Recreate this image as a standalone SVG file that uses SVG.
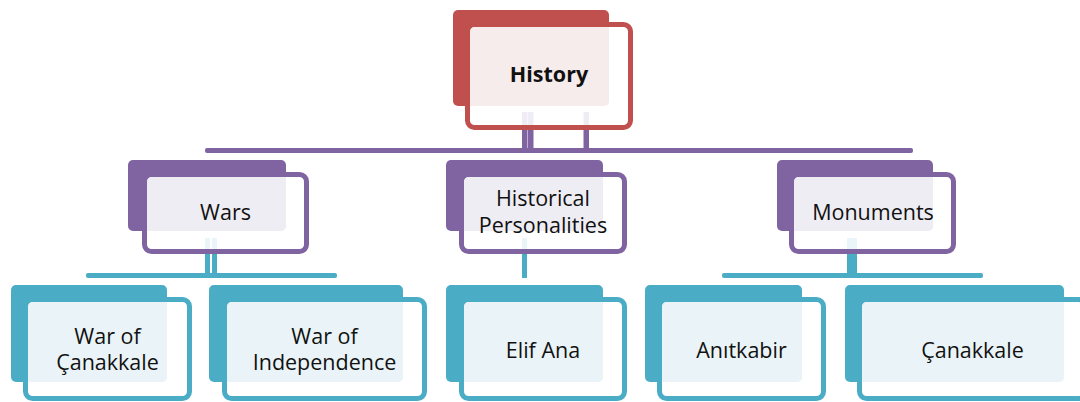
<svg xmlns="http://www.w3.org/2000/svg" width="1080" height="402" viewBox="0 0 1080 402">
<style>
text{font-family:"Open Sans","Noto Sans","Liberation Sans",sans-serif;font-size:21.5px;fill:#111;text-anchor:middle}
.b{font-weight:bold}
.front{fill:#fff;fill-opacity:0.88;stroke-width:5}
.red .back{fill:#C0504D}.red .front{stroke:#C0504D}.red .tint{fill:#F6ECEC}
.pur .back{fill:#8064A2}.pur .front{stroke:#8064A2}.pur .tint{fill:#EFEDF4}
.cy .back{fill:#4BACC6}.cy .front{stroke:#4BACC6}.cy .tint{fill:#EAF4F8}
.cp{fill:#8064A2}.cc{fill:#4BACC6}
</style>
<rect width="1080" height="402" fill="#fff"/>
<g id="connectors">
<rect class="cp" x="205" y="148" width="708" height="5" rx="2"/>
<rect class="cp" x="522" y="112" width="5.5" height="41"/>
<rect class="cp" x="528" y="112" width="5.5" height="41"/>
<rect class="cp" x="583.5" y="112" width="5.5" height="41"/>
<rect class="cc" x="86" y="273" width="251" height="5" rx="2"/>
<rect class="cc" x="205" y="238" width="5" height="40"/>
<rect class="cc" x="212" y="238" width="5" height="40"/>
<rect class="cc" x="522" y="238" width="5" height="40"/>
<rect class="cc" x="722" y="273" width="261" height="5" rx="2"/>
<rect class="cc" x="847" y="238" width="10" height="38"/>
</g>
<g id="history" class="red">
<rect class="back" x="453" y="10" width="156" height="96" rx="5"/>
<rect class="front" x="467.5" y="24.5" width="163" height="103" rx="7"/>
<rect class="tint" x="470" y="27" width="139" height="79" rx="5"/>
<text class="b" x="549" y="82">History</text>
</g>
<g id="wars" class="pur">
<rect class="back" x="128" y="160" width="158" height="71" rx="5"/>
<rect class="front" x="144.5" y="174.5" width="162" height="77" rx="7"/>
<rect class="tint" x="147" y="177" width="139" height="54" rx="5"/>
<text x="225.5" y="220">Wars</text>
</g>
<g id="personalities" class="pur">
<rect class="back" x="446" y="160" width="157" height="71" rx="5"/>
<rect class="front" x="461.5" y="174.5" width="163" height="77" rx="7"/>
<rect class="tint" x="464" y="177" width="139" height="54" rx="5"/>
<text x="543" y="205.5">Historical</text>
<text x="543" y="232.5">Personalities</text>
</g>
<g id="monuments" class="pur">
<rect class="back" x="777" y="160" width="156" height="71" rx="5"/>
<rect class="front" x="791.5" y="174.5" width="162" height="77" rx="7"/>
<rect class="tint" x="794" y="177" width="139" height="54" rx="5"/>
<text x="873" y="220">Monuments</text>
</g>
<g id="war-canakkale" class="cy">
<rect class="back" x="11" y="285" width="156" height="97" rx="5"/>
<rect class="front" x="25.5" y="299.5" width="164" height="99" rx="7"/>
<rect class="tint" x="28" y="302" width="139" height="80" rx="5"/>
<text x="107.5" y="343.5">War of</text>
<text x="107.5" y="370">Çanakkale</text>
</g>
<g id="war-independence" class="cy">
<rect class="back" x="209" y="285" width="194" height="97" rx="5"/>
<rect class="front" x="224.5" y="299.5" width="200" height="99" rx="7"/>
<rect class="tint" x="227" y="302" width="176" height="80" rx="5"/>
<text x="324.5" y="343.5">War of</text>
<text x="324.5" y="370">Independence</text>
</g>
<g id="elif-ana" class="cy">
<rect class="back" x="446" y="285" width="157" height="97" rx="5"/>
<rect class="front" x="461.5" y="299.5" width="163" height="99" rx="7"/>
<rect class="tint" x="464" y="302" width="139" height="80" rx="5"/>
<text x="543" y="358">Elif Ana</text>
</g>
<g id="anitkabir" class="cy">
<rect class="back" x="645" y="285" width="157" height="97" rx="5"/>
<rect class="front" x="659.5" y="299.5" width="164" height="99" rx="7"/>
<rect class="tint" x="662" y="302" width="140" height="80" rx="5"/>
<text x="741.5" y="358">Anıtkabir</text>
</g>
<g id="canakkale" class="cy">
<rect class="back" x="845" y="285" width="219" height="97" rx="5"/>
<rect class="front" x="859.5" y="299.5" width="226" height="99" rx="7"/>
<rect class="tint" x="862" y="302" width="202" height="80" rx="5"/>
<text x="972.5" y="358">Çanakkale</text>
</g>
</svg>
